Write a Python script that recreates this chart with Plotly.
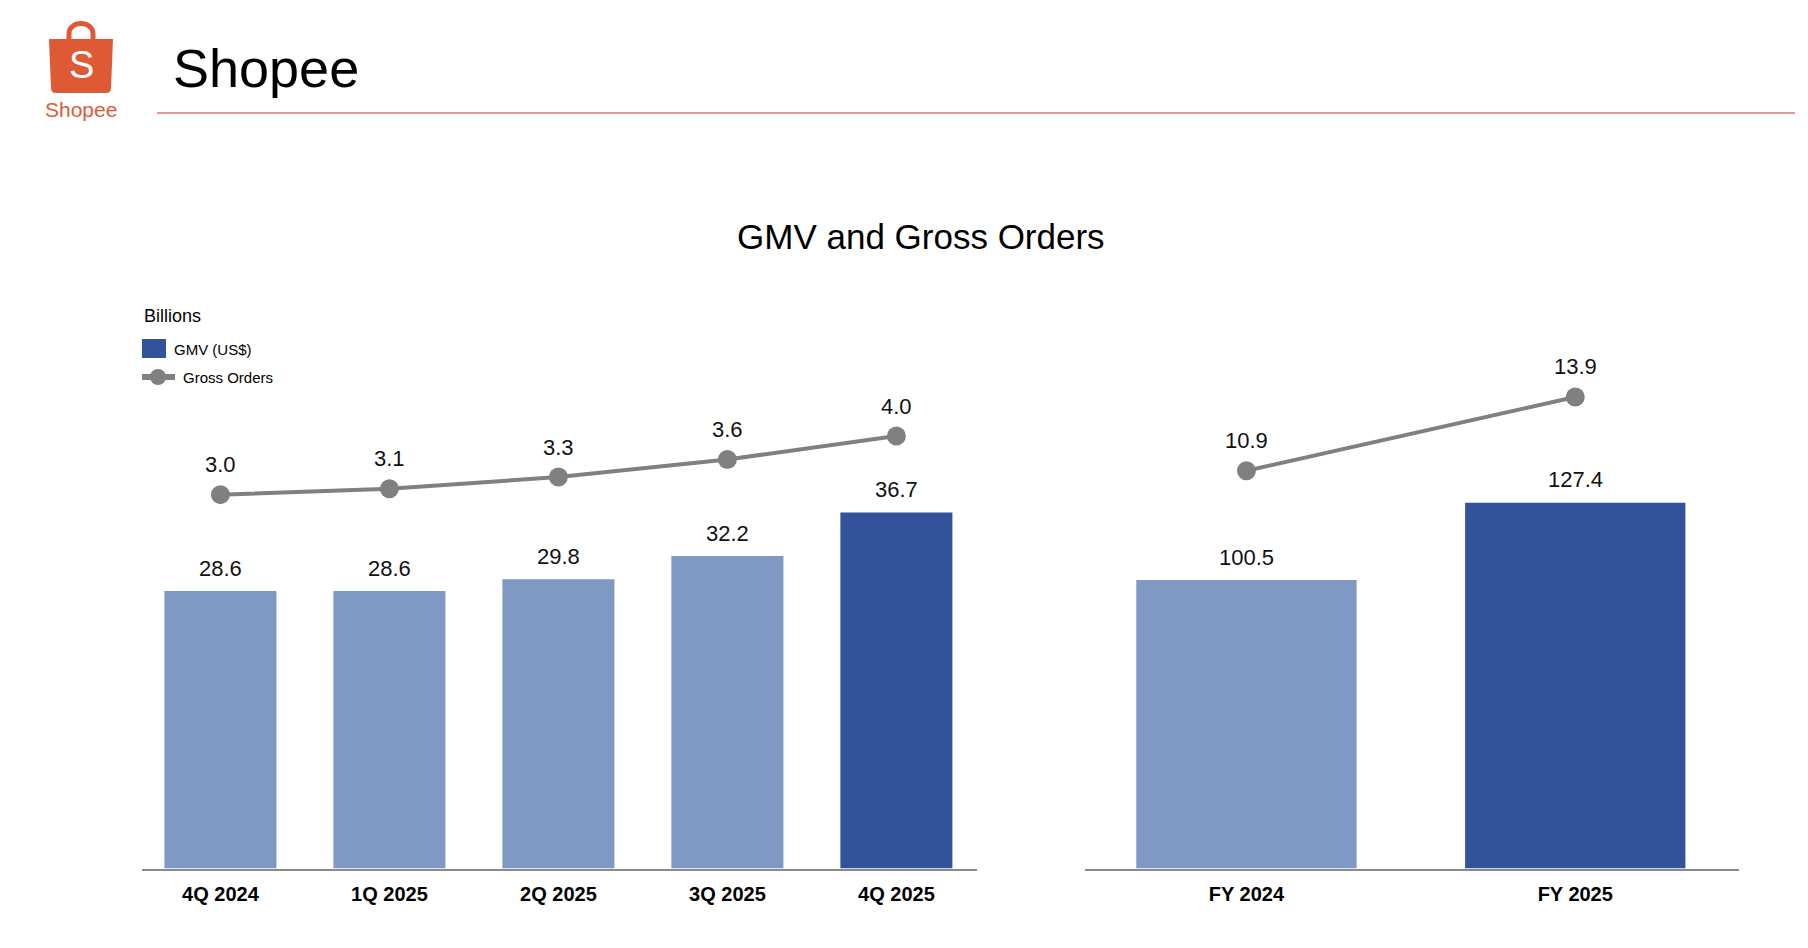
import plotly.graph_objects as go

# --- data ---
quarters = ["4Q 2024", "1Q 2025", "2Q 2025", "3Q 2025", "4Q 2025"]
gmv_quarter = [28.6, 28.6, 29.8, 32.2, 36.7]
orders_quarter = [3.0, 3.1, 3.3, 3.6, 4.0]

years = ["FY 2024", "FY 2025"]
gmv_year = [100.5, 127.4]
orders_year = [10.9, 13.9]

# --- styling ---
# the page body has an 8px margin, so the figure is made 16px smaller
# and all screen positions below are shifted by that margin
OFF = 8
W, H = 1808 - 2 * OFF, 948 - 2 * OFF
LIGHT = "#8098C4"
DARK = "#32539B"
GREY = "#808080"
ORANGE = "#DD5A35"
FONT = "Liberation Sans"


def px(x):
    return (x - OFF) / W


def py(y):
    return 1 - (y - OFF) / H


def bar_colors(n):
    # the latest period is highlighted
    return [LIGHT] * (n - 1) + [DARK]


fig = go.Figure()

# quarterly panel
fig.add_trace(go.Bar(x=quarters, y=gmv_quarter, width=0.663,
                     marker=dict(color=bar_colors(len(quarters)), line=dict(width=0)),
                     xaxis="x", yaxis="y", showlegend=False, hoverinfo="skip"))
fig.add_trace(go.Scatter(x=quarters, y=orders_quarter, mode="lines+markers",
                         line=dict(color=GREY, width=4),
                         marker=dict(size=19, color=GREY),
                         xaxis="x", yaxis="y2", showlegend=False, hoverinfo="skip"))

# full-year panel
fig.add_trace(go.Bar(x=years, y=gmv_year, width=0.67,
                     marker=dict(color=bar_colors(len(years)), line=dict(width=0)),
                     xaxis="x3", yaxis="y3", showlegend=False, hoverinfo="skip"))
fig.add_trace(go.Scatter(x=years, y=orders_year, mode="lines+markers",
                         line=dict(color=GREY, width=4),
                         marker=dict(size=19, color=GREY),
                         xaxis="x3", yaxis="y4", showlegend=False, hoverinfo="skip"))

annotations = []
for cats, vals, yref in [(quarters, gmv_quarter, "y"), (quarters, orders_quarter, "y2"),
                         (years, gmv_year, "y3"), (years, orders_year, "y4")]:
    xref = "x" if yref in ("y", "y2") else "x3"
    shift = 23 if yref in ("y", "y3") else 30
    for c, v in zip(cats, vals):
        annotations.append(dict(x=c, y=v, xref=xref, yref=yref, text=f"{v:.1f}",
                                showarrow=False, yanchor="middle", yshift=shift,
                                font=dict(family=FONT, size=22, color="#111111")))

# header texts
annotations += [
    dict(x=px(171), y=py(68), xref="paper", yref="paper", text="Shopee",
         xanchor="left", yanchor="middle", showarrow=False,
         font=dict(family=FONT, size=54, color="#000000")),
    dict(x=px(921), y=py(236), xref="paper", yref="paper", text="GMV and Gross Orders",
         xanchor="center", yanchor="middle", showarrow=False,
         font=dict(family=FONT, size=35, color="#000000")),
    dict(x=px(81), y=py(110), xref="paper", yref="paper", text="Shopee",
         xanchor="center", yanchor="middle", showarrow=False,
         font=dict(family=FONT, size=21, color=ORANGE)),
    dict(x=px(81), y=py(65), xref="paper", yref="paper", text="S",
         xanchor="center", yanchor="middle", showarrow=False,
         font=dict(family=FONT, size=38, color="#FFFFFF")),
    # legend
    dict(x=px(142), y=py(316), xref="paper", yref="paper", text="Billions",
         xanchor="left", yanchor="middle", showarrow=False,
         font=dict(family=FONT, size=18, color="#000000")),
    dict(x=px(172), y=py(349), xref="paper", yref="paper", text="GMV (US$)",
         xanchor="left", yanchor="middle", showarrow=False,
         font=dict(family=FONT, size=15, color="#000000")),
    dict(x=px(181), y=py(378), xref="paper", yref="paper", text="Gross Orders",
         xanchor="left", yanchor="middle", showarrow=False,
         font=dict(family=FONT, size=15, color="#000000")),
]

shapes = [
    # header rule
    dict(type="line", xref="paper", yref="paper", x0=px(157), x1=px(1795), y0=py(113), y1=py(113),
         line=dict(color="#E39A93", width=2)),
    # logo bag body
    dict(type="path", xref="paper", yref="paper",
         path=(f"M {px(49)},{py(39)} L {px(113)},{py(39)} L {px(111)},{py(88)} "
               f"Q {px(111)},{py(93)} {px(106)},{py(93)} L {px(56)},{py(93)} "
               f"Q {px(51)},{py(93)} {px(51)},{py(88)} Z"),
         fillcolor=ORANGE, line=dict(width=0)),
    # logo bag handle
    dict(type="path", xref="paper", yref="paper",
         path=(f"M {px(69)},{py(40)} L {px(69)},{py(34)} "
               f"C {px(69)},{py(20)} {px(93)},{py(20)} {px(93)},{py(34)} L {px(93)},{py(40)}"),
         line=dict(color=ORANGE, width=5)),
    # legend swatches
    dict(type="rect", xref="paper", yref="paper", x0=px(142), x1=px(166), y0=py(339), y1=py(358),
         fillcolor=DARK, line=dict(width=0)),
    dict(type="line", xref="paper", yref="paper", x0=px(142), x1=px(175), y0=py(377), y1=py(377),
         line=dict(color=GREY, width=6)),
    dict(type="circle", xref="paper", yref="paper", x0=px(150), x1=px(166), y0=py(369), y1=py(385),
         fillcolor=GREY, line=dict(width=0)),
]

axis_common = dict(showgrid=False, zeroline=False, showticklabels=False, fixedrange=True)
xaxis_common = dict(type="category", showgrid=False, zeroline=False, showline=True,
                    linecolor="#8A8A8A", linewidth=2, ticks="", ticklabelstandoff=6,
                    tickfont=dict(family=FONT, size=20, color="#000000", weight="bold"))

fig.update_layout(
    width=W, height=H,
    margin=dict(l=0, r=0, t=0, b=0),
    paper_bgcolor="white", plot_bgcolor="white",
    showlegend=False,
    xaxis=dict(domain=[px(142), px(977)], range=[-0.464, 4.477], anchor="y", **xaxis_common),
    yaxis=dict(domain=[py(868.5), py(330)], range=[0, 55.5], anchor="x", **axis_common),
    yaxis2=dict(overlaying="y", range=[-3.379, 5.809], anchor="x", **axis_common),
    xaxis3=dict(domain=[px(1085), px(1739)], range=[-0.491, 1.498], anchor="y3", **xaxis_common),
    yaxis3=dict(domain=[py(868.5), py(330)], range=[0, 187.6], anchor="x3", **axis_common),
    yaxis4=dict(overlaying="y3", range=[-5.253, 16.619], anchor="x3", **axis_common),
    annotations=annotations,
    shapes=shapes,
)

fig.write_html("out.html")
